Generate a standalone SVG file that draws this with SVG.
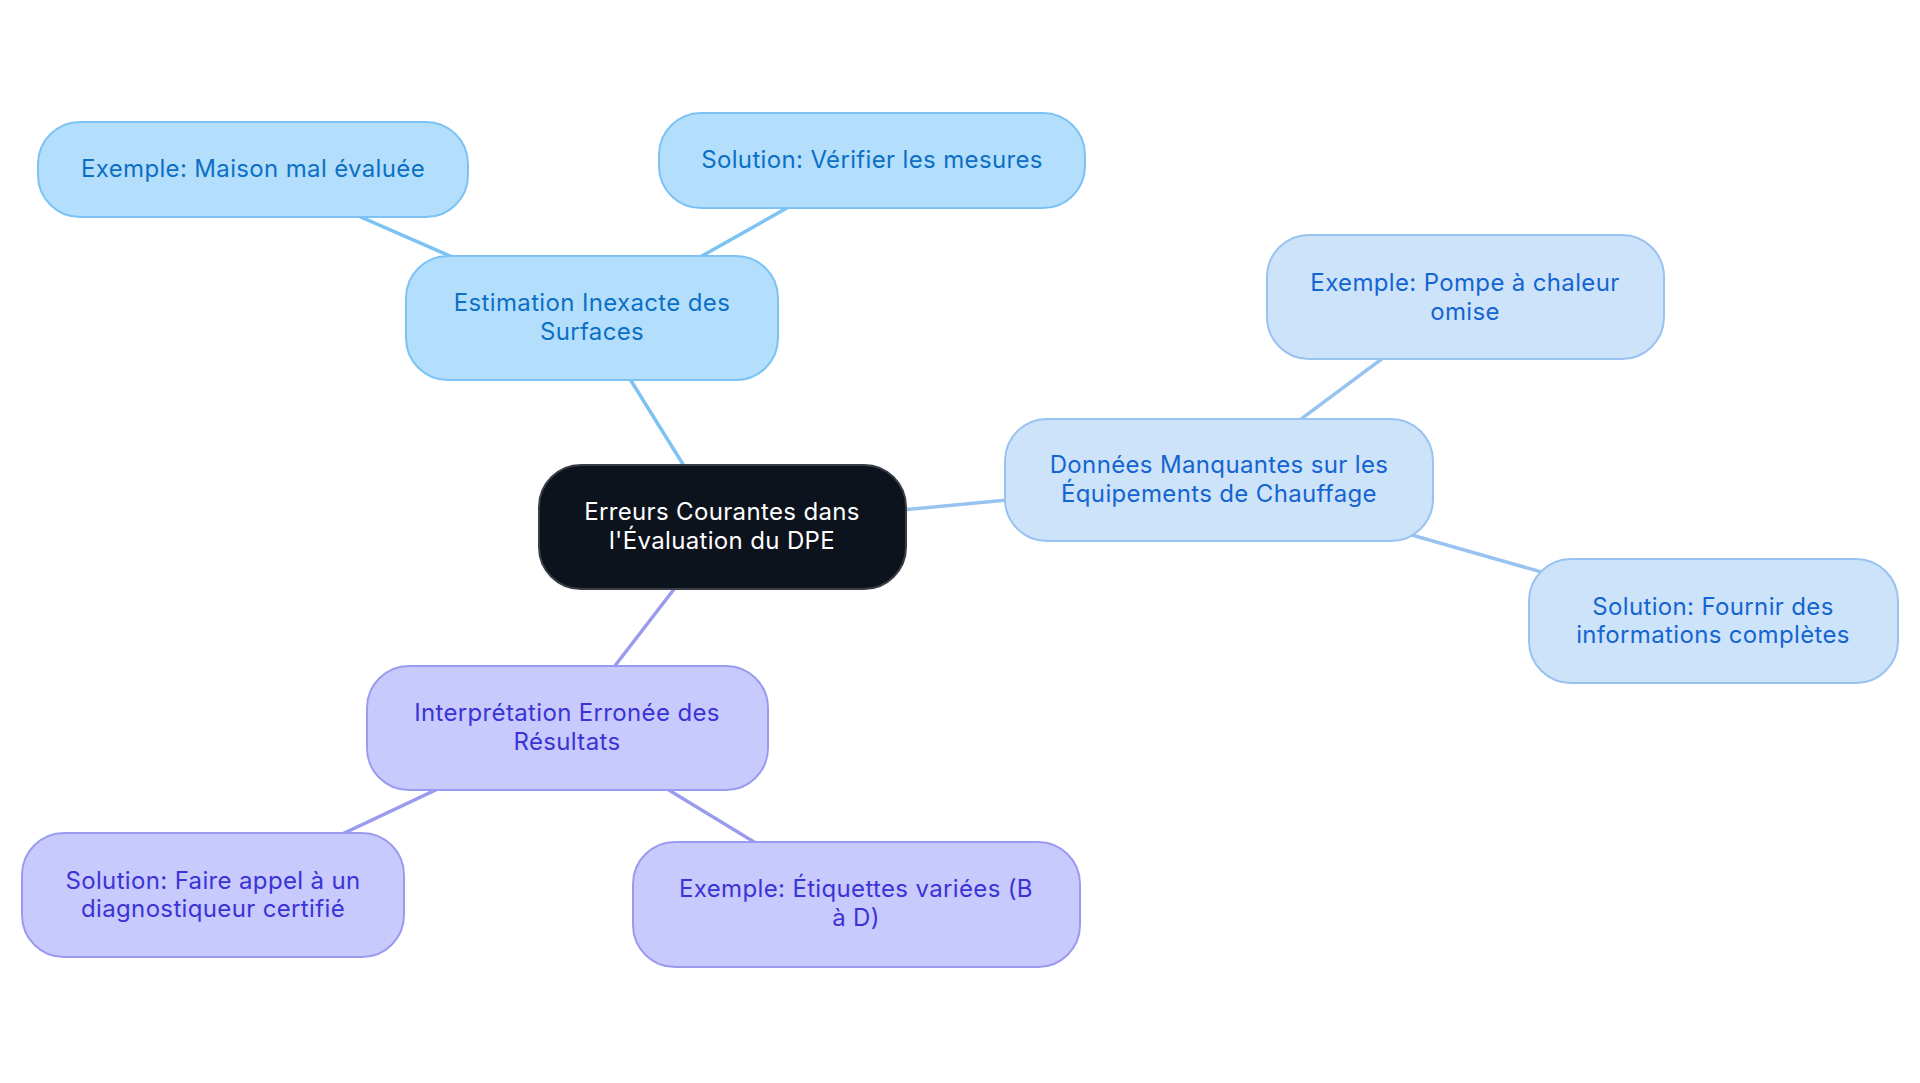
<svg xmlns="http://www.w3.org/2000/svg" width="1920" height="1083" viewBox="0 0 1920 1083">
<style>
text{font-family:Inter,"Noto Sans","Liberation Sans",sans-serif;font-size:24px;text-anchor:middle;dominant-baseline:central;letter-spacing:0.35px}
.c rect{fill:#0D131C;stroke:#3A3F47;stroke-width:2}
.c text{fill:#FFFFFF}
.a rect{fill:#B3DFFD;stroke:#7CC3F3;stroke-width:2}
.a text{fill:#0D6FC4}
.b rect{fill:#CCE3FA;stroke:#98C3F0;stroke-width:2}
.b text{fill:#1565D0}
.p rect{fill:#C8C9FC;stroke:#9A9BEF;stroke-width:2}
.p text{fill:#3A33D6}
.ea{stroke:#7CC3F3;stroke-width:3.5}
.eb{stroke:#98C3F0;stroke-width:3.5}
.ep{stroke:#9A9BEF;stroke-width:3.5}
</style>
<rect width="1920" height="1083" fill="#FFFFFF"/>
<g id="connectors">
<line class="ea" x1="722" y1="527" x2="592" y2="318"/>
<line class="ea" x1="592" y1="318" x2="253" y2="170"/>
<line class="ea" x1="592" y1="318" x2="872" y2="160"/>
<line class="eb" x1="722" y1="527" x2="1219" y2="480"/>
<line class="eb" x1="1219" y1="480" x2="1465" y2="297"/>
<line class="eb" x1="1219" y1="480" x2="1713" y2="621"/>
<line class="ep" x1="722" y1="527" x2="567" y2="728"/>
<line class="ep" x1="567" y1="728" x2="213" y2="895"/>
<line class="ep" x1="567" y1="728" x2="856" y2="904"/>
</g>
<g id="central" class="c">
<rect x="539" y="465" width="367" height="124" rx="42"/>
<text x="722" y="511">Erreurs Courantes dans</text>
<text x="722" y="540">l'Évaluation du DPE</text>
</g>
<g id="estimation" class="a">
<rect x="406" y="256" width="372" height="124" rx="42"/>
<text x="592" y="302">Estimation Inexacte des</text>
<text x="592" y="331">Surfaces</text>
</g>
<g id="maison" class="a">
<rect x="38" y="122" width="430" height="95" rx="42"/>
<text x="253" y="168">Exemple: Maison mal évaluée</text>
</g>
<g id="verifier" class="a">
<rect x="659" y="113" width="426" height="95" rx="42"/>
<text x="872" y="159">Solution: Vérifier les mesures</text>
</g>
<g id="donnees" class="b">
<rect x="1005" y="419" width="428" height="122" rx="42"/>
<text x="1219" y="464">Données Manquantes sur les</text>
<text x="1219" y="493">Équipements de Chauffage</text>
</g>
<g id="pompe" class="b">
<rect x="1267" y="235" width="397" height="124" rx="42"/>
<text x="1465" y="282">Exemple: Pompe à chaleur</text>
<text x="1465" y="311">omise</text>
</g>
<g id="fournir" class="b">
<rect x="1529" y="559" width="369" height="124" rx="42"/>
<text x="1713" y="606">Solution: Fournir des</text>
<text x="1713" y="634">informations complètes</text>
</g>
<g id="interpretation" class="p">
<rect x="367" y="666" width="401" height="124" rx="42"/>
<text x="567" y="712">Interprétation Erronée des</text>
<text x="567" y="741">Résultats</text>
</g>
<g id="faire" class="p">
<rect x="22" y="833" width="382" height="124" rx="42"/>
<text x="213" y="880">Solution: Faire appel à un</text>
<text x="213" y="908">diagnostiqueur certifié</text>
</g>
<g id="etiquettes" class="p">
<rect x="633" y="842" width="447" height="125" rx="42"/>
<text x="856" y="888">Exemple: Étiquettes variées (B</text>
<text x="856" y="917">à D)</text>
</g>
</svg>
